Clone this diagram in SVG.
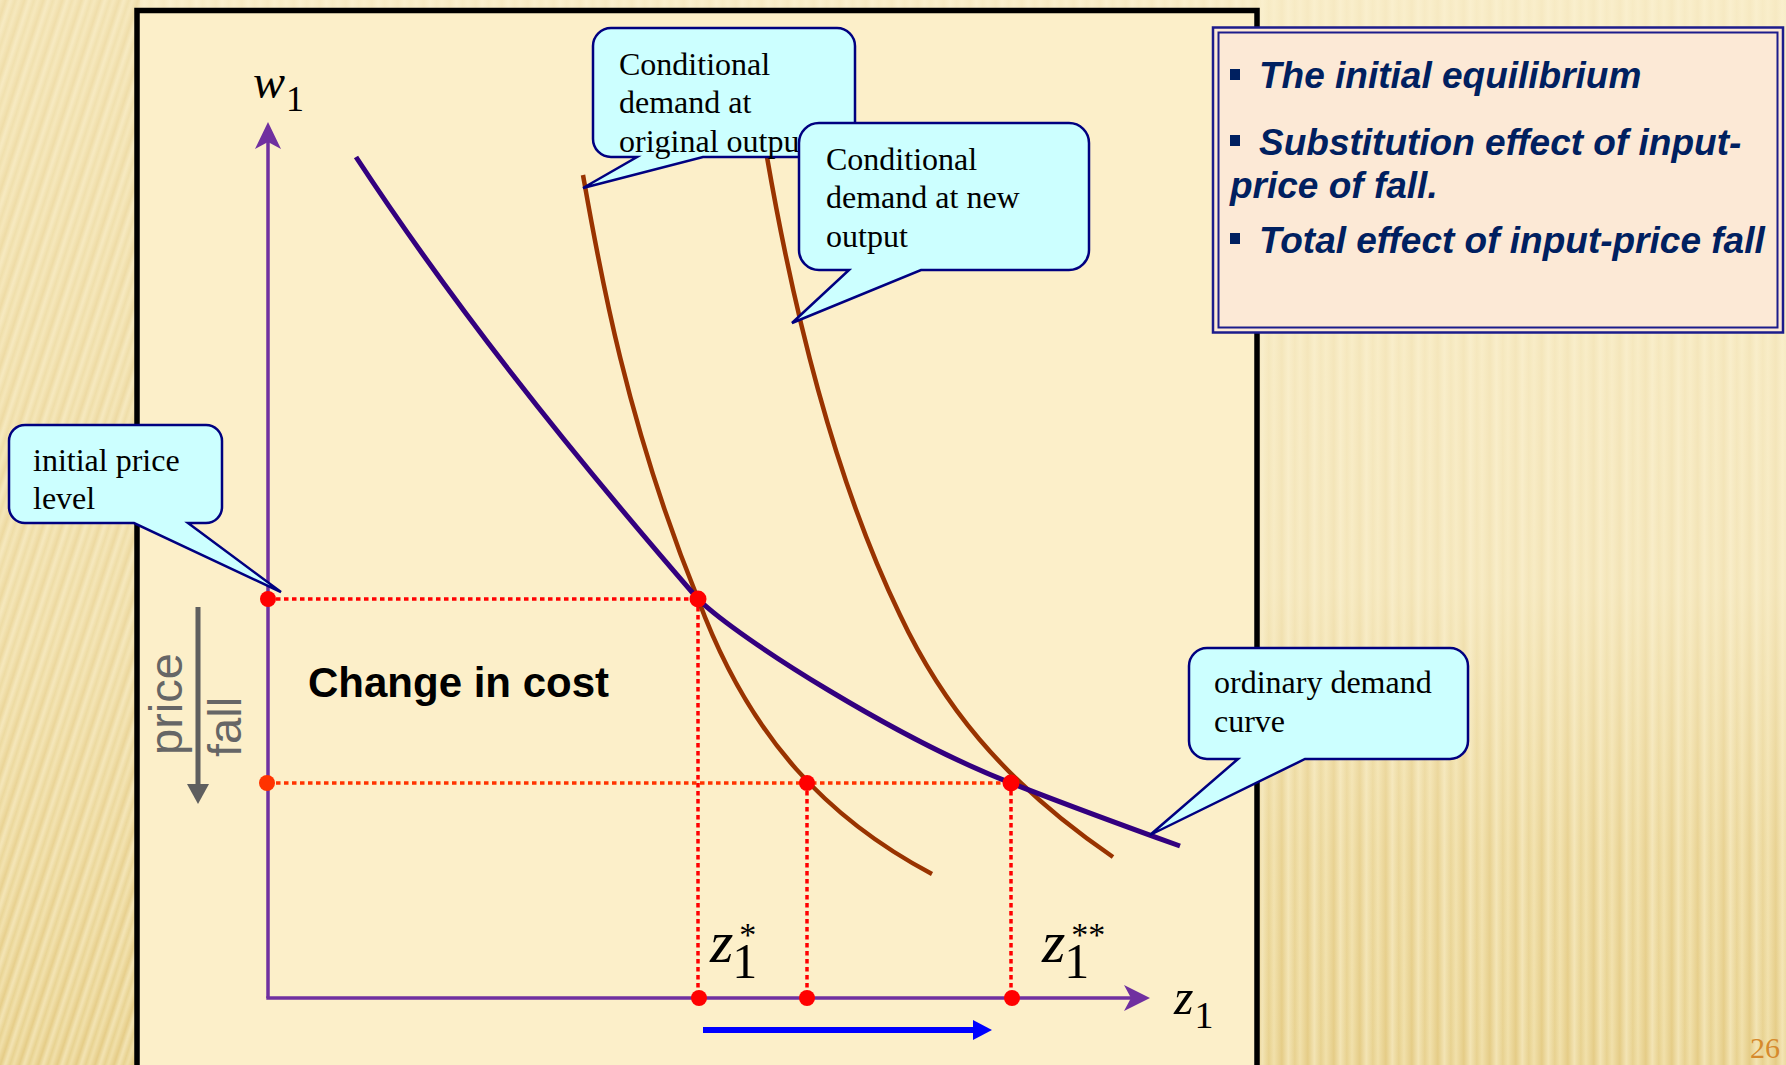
<svg xmlns="http://www.w3.org/2000/svg" width="1786" height="1065" viewBox="0 0 1786 1065">
<defs>
<style>
.serif{font-family:"Liberation Serif","Times New Roman",serif;fill:#000}
.call{fill:#ccffff;stroke:#000080;stroke-width:2.5;stroke-linejoin:miter}
.ctext{font-family:"Liberation Serif","Times New Roman",serif;font-size:32px;fill:#000}
.info{font-family:"Liberation Sans",Arial,sans-serif;font-size:37px;font-weight:bold;font-style:italic;fill:#002060}
.guide{fill:none;stroke:#ff0000;stroke-width:3.5;stroke-dasharray:4.5 3.5}
.guide2{fill:none;stroke:#ff3300;stroke-width:3.5;stroke-dasharray:4.5 3.5}
.dot{fill:#ff0000}
.axis{stroke:#7030a0;stroke-width:3.5;fill:none}
.brown{fill:none;stroke:#993300;stroke-width:4.5}
.purple{fill:none;stroke:#33007f;stroke-width:5}
</style>
<linearGradient id="vsg" x1="0" x2="1" y1="0" y2="0">
<stop offset="0" stop-color="#f1e0aa"/>
<stop offset="0.3" stop-color="#e5cc86"/>
<stop offset="0.55" stop-color="#f3e4b4"/>
<stop offset="0.8" stop-color="#e8d290"/>
<stop offset="1" stop-color="#f1e0aa"/>
</linearGradient>
<pattern id="vstripes" width="26" height="40" patternUnits="userSpaceOnUse">
<rect width="26" height="40" fill="url(#vsg)"/>
</pattern>
<pattern id="diag" width="18" height="40" patternUnits="userSpaceOnUse" patternTransform="rotate(18)">
<rect width="18" height="40" fill="url(#vsg)"/>
</pattern>
<linearGradient id="fade" x1="0" y1="0" x2="0" y2="1">
<stop offset="0" stop-color="#fcf3d6" stop-opacity="0.75"/>
<stop offset="0.55" stop-color="#fcf3d6" stop-opacity="0.6"/>
<stop offset="0.8" stop-color="#fcf3d6" stop-opacity="0.15"/>
<stop offset="1" stop-color="#fcf3d6" stop-opacity="0"/>
</linearGradient>
<linearGradient id="fadeL" x1="0" y1="0" x2="0" y2="1">
<stop offset="0" stop-color="#fcf3d6" stop-opacity="0.45"/>
<stop offset="0.6" stop-color="#fcf3d6" stop-opacity="0.3"/>
<stop offset="1" stop-color="#fcf3d6" stop-opacity="0"/>
</linearGradient>
</defs>

<g id="background">
<rect width="1786" height="1065" fill="url(#vstripes)"/>
<rect width="1786" height="1065" fill="url(#fade)"/>
<rect x="0" y="0" width="140" height="1065" fill="url(#diag)"/>
<rect x="0" y="0" width="140" height="1065" fill="url(#fadeL)"/>
</g>

<g id="panel">
<rect x="137" y="10.5" width="1120" height="1062" fill="#fcefc9" stroke="#000" stroke-width="5.5"/>
</g>

<g id="info-box">
<rect x="1213" y="27.5" width="570" height="305" fill="#fce9d6" stroke="#1c1c8c" stroke-width="2.5"/>
<rect x="1218.5" y="32.5" width="559" height="295" fill="none" stroke="#1c1c8c" stroke-width="2"/>
<rect x="1230" y="69" width="10" height="11" fill="#002060"/>
<rect x="1230" y="135" width="10" height="11" fill="#002060"/>
<rect x="1230" y="233" width="10" height="11" fill="#002060"/>
<text class="info" x="1259" y="88">The initial equilibrium</text>
<text class="info" x="1259" y="155">Substitution effect of input-</text>
<text class="info" x="1230" y="198">price of fall.</text>
<text class="info" x="1259" y="253">Total effect of input-price fall</text>
</g>

<g id="axes">
<line class="axis" x1="268" y1="998" x2="268" y2="140"/>
<polygon points="268,122 281,149 268,142 255,149" fill="#7030a0"/>
<line class="axis" x1="266.3" y1="998" x2="1132" y2="998"/>
<polygon points="1150,998 1124,985 1131,998 1124,1011" fill="#7030a0"/>
<text class="serif" x="253" y="98" font-size="48" font-style="italic">w<tspan font-style="normal" font-size="36" dy="13" dx="1">1</tspan></text>
<text class="serif" x="1174" y="1014" font-size="50" font-style="italic">z<tspan font-style="normal" font-size="38" dy="14" dx="1">1</tspan></text>
</g>

<g id="connectors">
<line class="guide" x1="268" y1="599" x2="698" y2="599"/>
<line class="guide2" x1="268" y1="783" x2="1011" y2="783"/>
<line class="guide" x1="698" y1="599" x2="698" y2="998"/>
<line class="guide" x1="807" y1="783" x2="807" y2="998"/>
<line class="guide" x1="1011" y1="783" x2="1011" y2="998"/>
</g>

<g id="curves">
<path id="cond-original" class="brown" d="M583,175 C598,260 625,420 698,599 C750,740 830,820 932,874"/>
<path id="cond-new" class="brown" d="M767,157 C790,290 830,470 900,615 C940,700 1000,780 1113,857"/>
<path id="ordinary" class="purple" d="M356,157 C450,300 560,440 698,599 C740,640 900,740 1011,783 C1070,806 1130,828 1180,846"/>
</g>

<g id="points">
<circle class="dot" cx="268" cy="599" r="8"/>
<circle cx="267" cy="783" r="8" fill="#ff3300"/>
<circle class="dot" cx="698" cy="599" r="8.5"/>
<circle class="dot" cx="807" cy="783" r="8"/>
<circle class="dot" cx="1011" cy="783" r="8.5"/>
<circle class="dot" cx="699" cy="998" r="8"/>
<circle class="dot" cx="807" cy="998" r="8"/>
<circle class="dot" cx="1012" cy="998" r="8"/>
</g>

<g id="z-labels">
<text class="serif" x="710" y="962" font-size="60" font-style="italic">z<tspan font-style="normal" font-size="50" dy="16" dx="-1">1</tspan><tspan font-style="normal" font-size="34" dy="-32" dx="-18">*</tspan></text>
<text class="serif" x="1042" y="962" font-size="60" font-style="italic">z<tspan font-style="normal" font-size="50" dy="16" dx="-1">1</tspan><tspan font-style="normal" font-size="34" dy="-32" dx="-18">**</tspan></text>
</g>

<g id="price-fall">
<line x1="198" y1="607" x2="198" y2="788" stroke="#5f5f5f" stroke-width="5"/>
<polygon points="187,784 209,784 198,804" fill="#5f5f5f"/>
<text x="182" y="755" transform="rotate(-90 182 755)" font-family="Liberation Sans, Arial, sans-serif" font-size="47" fill="#666">price</text>
<text x="241" y="757" transform="rotate(-90 241 757)" font-family="Liberation Sans, Arial, sans-serif" font-size="47" fill="#666">fall</text>
</g>

<g id="change-in-cost">
<text x="308" y="697" font-family="Liberation Sans, Arial, sans-serif" font-size="42" font-weight="bold" fill="#000">Change in cost</text>
</g>

<g id="shift-arrow">
<line x1="703" y1="1030" x2="976" y2="1030" stroke="#0000ff" stroke-width="6"/>
<polygon points="973,1020 992,1030 973,1040" fill="#0000ff"/>
</g>

<g id="callout-original">
<path class="call" d="M611,28 H837 A18,18 0 0 1 855,46 V139 A18,18 0 0 1 837,157 H703 L583,188 L637,157 H611 A18,18 0 0 1 593,139 V46 A18,18 0 0 1 611,28 Z"/>
<text class="ctext" x="619" y="75">Conditional</text>
<text class="ctext" x="619" y="113">demand at</text>
<text class="ctext" x="619" y="152">original output</text>
</g>

<g id="callout-new">
<path class="call" d="M819,123 H1069 A20,20 0 0 1 1089,143 V250 A20,20 0 0 1 1069,270 H921 L792,323 L849,270 H819 A20,20 0 0 1 799,250 V143 A20,20 0 0 1 819,123 Z"/>
<text class="ctext" x="826" y="170">Conditional</text>
<text class="ctext" x="826" y="208">demand at new</text>
<text class="ctext" x="826" y="247">output</text>
</g>

<g id="callout-initial">
<path class="call" d="M25,425 H206 A16,16 0 0 1 222,441 V507 A16,16 0 0 1 206,523 H188 L281,592 L134,523 H25 A16,16 0 0 1 9,507 V441 A16,16 0 0 1 25,425 Z"/>
<text class="ctext" x="33" y="471">initial price</text>
<text class="ctext" x="33" y="509">level</text>
</g>

<g id="callout-ordinary">
<path class="call" d="M1207,648 H1450 A18,18 0 0 1 1468,666 V741 A18,18 0 0 1 1450,759 H1305 L1150,835 L1238,759 H1207 A18,18 0 0 1 1189,741 V666 A18,18 0 0 1 1207,648 Z"/>
<text class="ctext" x="1214" y="693">ordinary demand</text>
<text class="ctext" x="1214" y="732">curve</text>
</g>

<g id="page-number">
<text x="1750" y="1058" font-family="Liberation Serif, Times New Roman, serif" font-size="30" fill="#d68a2c">26</text>
</g>
</svg>
